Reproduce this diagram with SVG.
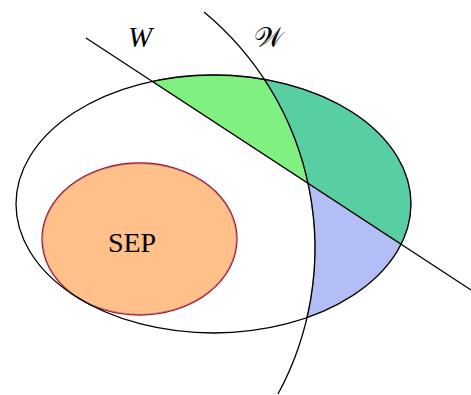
<svg xmlns="http://www.w3.org/2000/svg" width="471" height="395" viewBox="0 0 471 395">
<style>
.reg{stroke:#808080;stroke-width:1.2}
.ln{fill:none;stroke:#000;stroke-width:1.3}
.lbl{font-family:"Liberation Serif","DejaVu Serif",serif;fill:#000}
</style>
<rect width="471" height="395" fill="#fff"/>
<g id="regions">
<path id="green" class="reg" fill="#80F080" d="M152.3,81.4 A197.5,129 0 0,1 264.5,79.4 A306.5,306.5 0 0,1 308,183.3 Z"/>
<path id="teal" class="reg" fill="#58CFA3" d="M264.5,79.4 A197.5,129 0 0,1 401,244.2 L308,183.3 A306.5,306.5 0 0,0 264.5,79.4 Z"/>
<path id="blue" class="reg" fill="#B3BEF6" d="M308,183.3 L401,244.2 A197.5,129 0 0,1 307,317.6 A306.5,306.5 0 0,0 308,183.3 Z"/>
</g>
<g id="SEP">
<ellipse cx="139.5" cy="239" rx="97.5" ry="76" fill="#FFC08A" stroke="#C00018" stroke-width="1.3"/>
<ellipse cx="139.5" cy="239" rx="96.7" ry="75.2" fill="none" stroke="#909090" stroke-width="0.8"/>
<text class="lbl" x="132" y="252" font-size="28" text-anchor="middle">SEP</text>
</g>
<g id="connectors">
<ellipse id="outer" class="ln" cx="213.5" cy="204" rx="197.5" ry="129"/>
<path id="Wline" class="ln" d="M86,38 L471,290"/>
<path id="Wcurve" class="ln" d="M204,12 A306.5,306.5 0 0,1 278,394"/>
</g>
<g id="labels">
<text class="lbl" x="140" y="47" font-size="29" font-style="italic" text-anchor="middle">W</text>
<text class="lbl" x="268" y="47" font-size="28" text-anchor="middle">𝒲</text>
</g>
</svg>
